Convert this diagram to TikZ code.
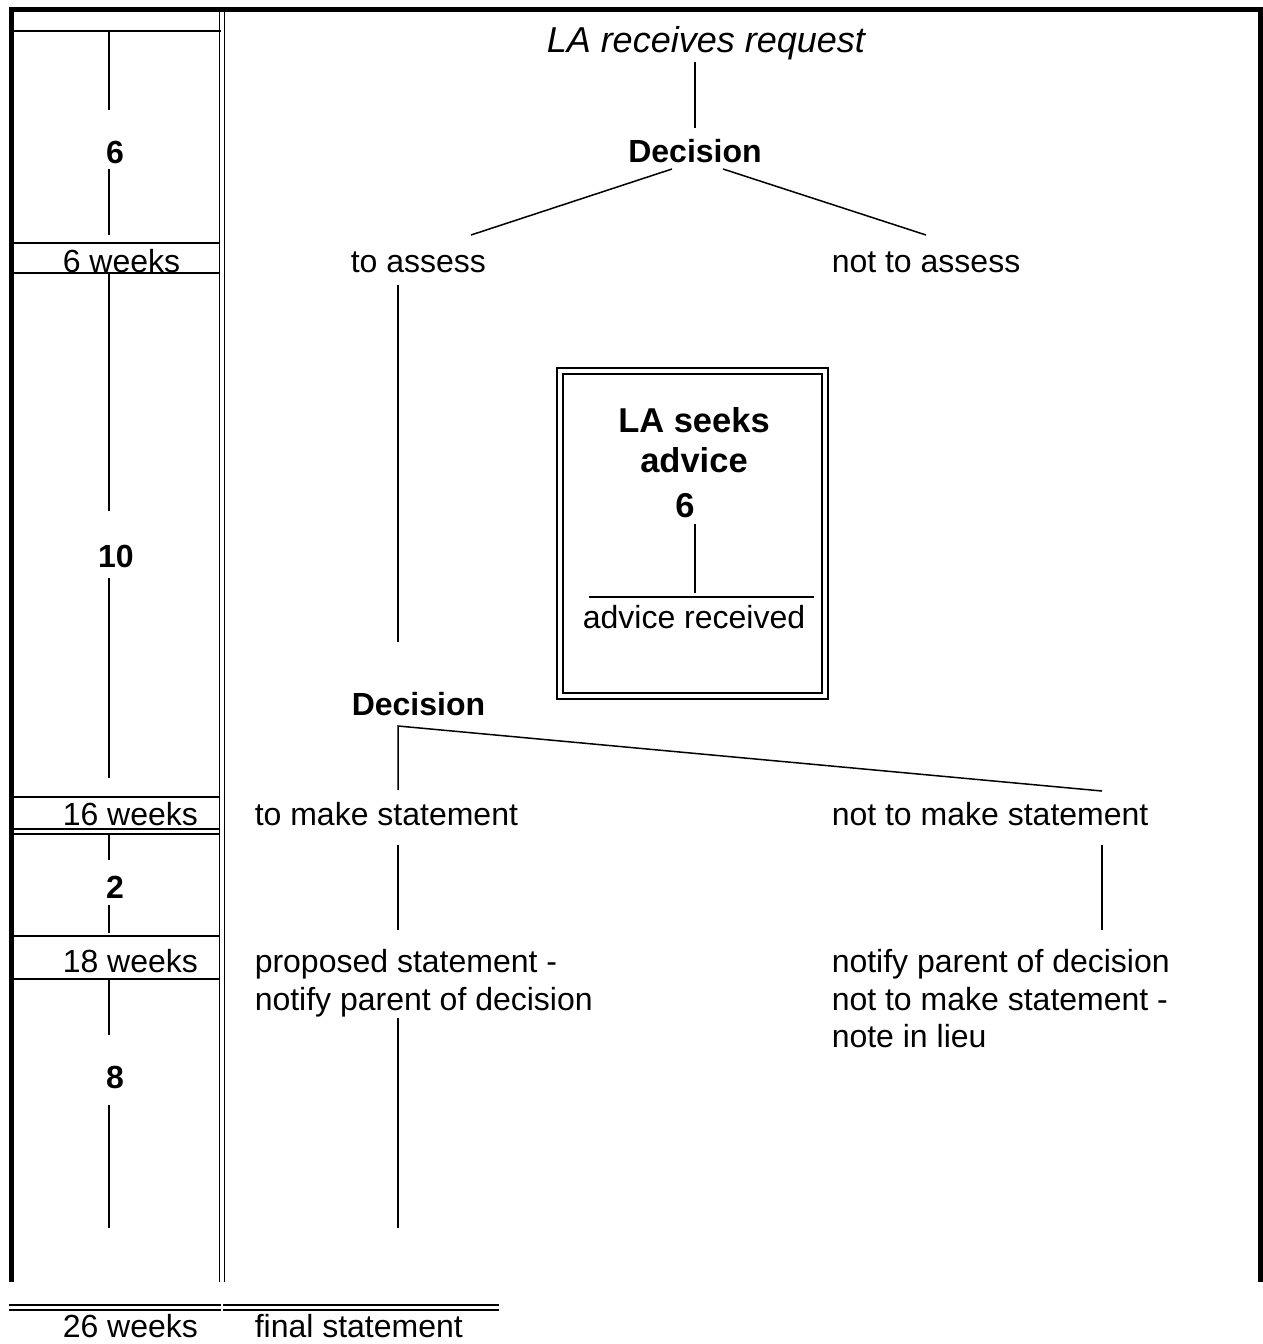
\documentclass[tikz,border=0pt]{standalone}
\usepackage{fontspec}
\setmainfont{Liberation Sans}
\begin{document}
\begin{tikzpicture}[x=1pt,y=-1pt,line width=1.5pt,line cap=butt,
  lbl/.style={font=\fontsize{32}{38}\selectfont,inner sep=0pt,anchor=base west},
  lblc/.style={font=\fontsize{32}{38}\selectfont,inner sep=0pt,anchor=base},
  num/.style={font=\fontsize{32}{38}\selectfont\bfseries,inner sep=0pt,anchor=base},
  boxtitle/.style={font=\fontsize{34.5}{40}\selectfont\bfseries,inner sep=0pt,anchor=base},
  frame/.style={line width=5pt,miter limit=10},
  conn/.style={line width=1.5pt}]
\useasboundingbox (0,0) rectangle (1263,1344);
% outer frame
\draw[frame] (11.5,1282) -- (11.5,9.5) -- (1260.5,9.5) -- (1260.5,1282);
% column separator (double)
\draw (219.5,12) -- (219.5,1282);
\draw (224.5,12) -- (224.5,1282);
% left column horizontal rules
\draw (14,31) -- (221,31);
\draw (14,243) -- (219,243);
\draw (14,273) -- (219,273);
\draw (14,797) -- (219,797);
\draw (14,829) -- (219,829);
\draw (14,834) -- (219,834);
\draw (14,936) -- (219,936);
\draw (14,979) -- (219,979);
% bottom double rules
\draw (9,1305) -- (221,1305);
\draw (9,1310) -- (221,1310);
\draw (223,1305) -- (499,1305);
\draw (223,1310) -- (499,1310);

% left column labels
\node[num] (n6) at (115,163) {6};
\node[lbl] (w6) at (62,272) {6 weeks};
\node[num] (n10) at (116,567) {10};
\node[lbl] (w16) at (62,825) {16 weeks};
\node[num] (n2) at (115,898) {2};
\node[lbl] (w18) at (62,972) {18 weeks};
\node[num] (n8) at (115,1088) {8};
\node[lbl] (w26) at (62,1337) {26 weeks};

% left column ticks
\coordinate (t1a) at (109,31);  \coordinate (t1b) at (109,110);
\coordinate (t1c) at (109,169); \coordinate (t1d) at (109,235);
\coordinate (t2a) at (109,273); \coordinate (t2b) at (109,511);
\coordinate (t2c) at (109,578); \coordinate (t2d) at (109,778);
\coordinate (t3a) at (109,834); \coordinate (t3b) at (109,860);
\coordinate (t3c) at (109,905); \coordinate (t3d) at (109,933);
\coordinate (t4a) at (109,979); \coordinate (t4b) at (109,1035);
\coordinate (t4c) at (109,1105); \coordinate (t4d) at (109,1228);
\draw[conn] (t1a) -- (t1b) (t1c) -- (t1d) (t2a) -- (t2b) (t2c) -- (t2d)
  (t3a) -- (t3b) (t3c) -- (t3d) (t4a) -- (t4b) (t4c) -- (t4d);

% right part
\node[lbl,font=\fontsize{36}{40}\selectfont\itshape] (req) at (546,52) {LA receives request};
\node[num] (dec1) at (695,162) {Decision};
\node[lbl] (assess) at (350,272) {to assess};
\node[lbl] (noassess) at (831,272) {not to assess};
\node[lbl,font=\fontsize{32}{38}\selectfont\bfseries] (dec2) at (351,715) {Decision};
\node[lbl] (make) at (254,825) {to make statement};
\node[lbl] (nomake) at (831,825) {not to make statement};
\node[lbl] (prop1) at (254,972) {proposed statement -};
\node[lbl] (prop2) at (254,1010) {notify parent of decision};
\node[lbl] (not1) at (831,972) {notify parent of decision};
\node[lbl] (not2) at (831,1010) {not to make statement -};
\node[lbl] (not3) at (831,1047) {note in lieu};
\node[lbl] (final) at (254,1337) {final statement};

\coordinate (r1) at (695,62);  \coordinate (r2) at (695,128);
\coordinate (d1l) at (672,169); \coordinate (d1la) at (471,235);
\coordinate (d1r) at (723,169); \coordinate (d1ra) at (926,235);
\coordinate (a1) at (398,285); \coordinate (a2) at (398,642);
\coordinate (d2) at (398,726); \coordinate (d2m) at (398,790);
\coordinate (d2r) at (1102,791);
\coordinate (m1) at (398,845); \coordinate (m2) at (398,930);
\coordinate (m3) at (398,1018); \coordinate (m4) at (398,1228);
\coordinate (nm1) at (1102,845); \coordinate (nm2) at (1102,930);
\draw[conn] (r1) -- (r2);
\draw[conn] (d1l) -- (d1la);
\draw[conn] (d1r) -- (d1ra);
\draw[conn] (a1) -- (a2);
\draw[conn] (d2m) -- (d2) -- (d2r);
\draw[conn] (m1) -- (m2);
\draw[conn] (m3) -- (m4);
\draw[conn] (nm1) -- (nm2);

% advice box
\draw[line width=2pt] (557,368) rectangle (828,699);
\draw[line width=2pt] (563,374) rectangle (822,693);
\node[boxtitle] (seek1) at (694,432) {LA seeks};
\node[boxtitle] (seek2) at (694,472) {advice};
\node[boxtitle] (seek6) at (685,517) {6};
\node[lblc] (advrec) at (694,628) {advice received};
\coordinate (b1) at (695,524); \coordinate (b2) at (695,593);
\coordinate (bl) at (589,597); \coordinate (br) at (814,597);
\draw[conn] (b1) -- (b2);
\draw[conn] (bl) -- (br);
\end{tikzpicture}
\end{document}
